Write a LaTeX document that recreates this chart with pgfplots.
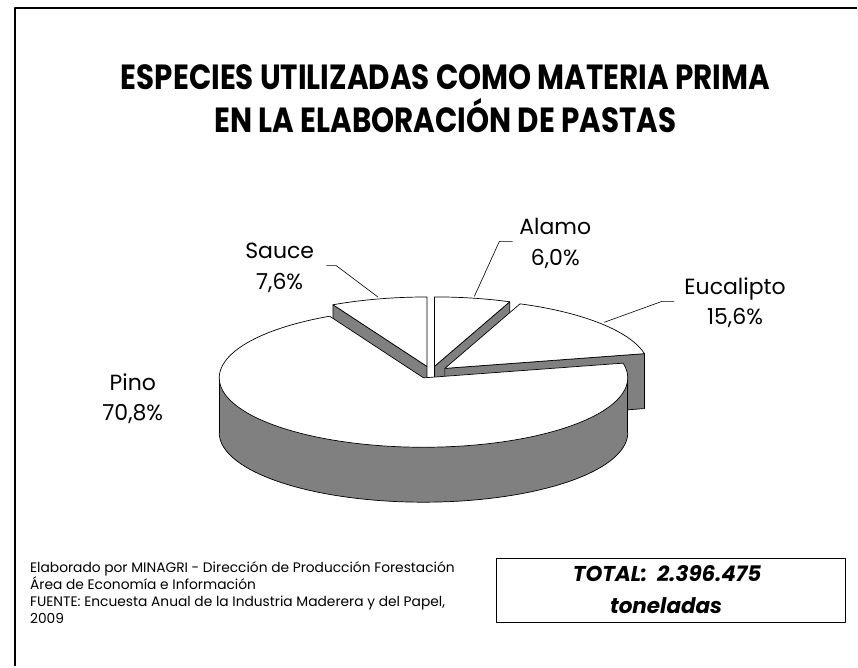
\documentclass[border=0pt]{standalone}
\usepackage{pgfplots}
\pgfplotsset{compat=1.18}
\usepackage{pgfplotstable}
\usepackage{fontspec}
\setmainfont{Poppins}
\newfontfamily\titlefont{Poppins}[FakeStretch=0.84]
\definecolor{sidegray}{RGB}{128,128,128}

\pgfplotstableread{
name value
Alamo 6.0
Eucalipto 15.6
Pino 70.8
Sauce 7.6
}\pietable
\pgfplotstablegetelem{0}{value}\of\pietable \let\vA\pgfplotsretval
\pgfplotstablegetelem{1}{value}\of\pietable \let\vE\pgfplotsretval
\pgfplotstablegetelem{2}{value}\of\pietable \let\vP\pgfplotsretval
\pgfplotstablegetelem{3}{value}\of\pietable \let\vS\pgfplotsretval

% geometry (pixel units, y downwards)
\def\Ox{431.7}\def\Oy{372.8}\def\ra{204.5}\def\rb{69.5}\def\dep{55}\def\ex{0.088}

\pgfmathsetmacro\aAlo{90-3.6*\vA}
\pgfmathsetmacro\aElo{\aAlo-3.6*\vE}
\pgfmathsetmacro\aPlo{\aElo-3.6*\vP}
\pgfmathsetmacro\aShi{\aPlo+360}

\pgfmathsetmacro\AAx{\Ox+\ex*\ra*cos((\aAlo+90)/2)}
\pgfmathsetmacro\AAy{\Oy-\ex*\rb*sin((\aAlo+90)/2)}
\pgfmathsetmacro\EEx{\Ox+\ex*\ra*cos((\aElo+\aAlo)/2)}
\pgfmathsetmacro\EEy{\Oy-\ex*\rb*sin((\aElo+\aAlo)/2)}
\pgfmathsetmacro\PPx{\Ox+\ex*\ra*cos((\aPlo+\aElo)/2)}
\pgfmathsetmacro\PPy{\Oy-\ex*\rb*sin((\aPlo+\aElo)/2)}
\pgfmathsetmacro\SSx{\Ox+\ex*\ra*cos((\aShi+90)/2)}
\pgfmathsetmacro\SSy{\Oy-\ex*\rb*sin((\aShi+90)/2)}

\pgfmathsetmacro\AQx{\AAx+\ra*cos(\aAlo)}
\pgfmathsetmacro\AQy{\AAy-\rb*sin(\aAlo)}
\pgfmathsetmacro\AQyd{\AQy+\dep}
\pgfmathsetmacro\AAyd{\AAy+\dep}
\pgfmathsetmacro\EQx{\EEx+\ra*cos(\aElo)}
\pgfmathsetmacro\EQy{\EEy-\rb*sin(\aElo)}
\pgfmathsetmacro\EQyd{\EQy+\dep}
\pgfmathsetmacro\EEyd{\EEy+\dep}
\pgfmathsetmacro\SQx{\SSx+\ra*cos(\aShi)}
\pgfmathsetmacro\SQy{\SSy-\rb*sin(\aShi)}
\pgfmathsetmacro\SQyd{\SQy+\dep}
\pgfmathsetmacro\SSyd{\SSy+\dep}
\pgfmathsetmacro\PL{\PPx-\ra}
\pgfmathsetmacro\PR{\PPx+\ra}
\pgfmathsetmacro\PPyd{\PPy+\dep}

\begin{document}
\begin{tikzpicture}
\begin{axis}[
  width=858pt, height=667pt, scale only axis,
  xmin=0, xmax=858, ymin=0, ymax=667, y dir=reverse,
  hide axis, clip=false,
  every axis plot/.append style={line width=0.7pt, line join=round},
]
\path (rel axis cs:0,0) rectangle (rel axis cs:1,1);
% frame
\addplot[black, line width=2.2pt] coordinates {(15,667) (15,8.3) (858,8.3)};

% Sauce
\addplot[fill=sidegray, draw=black] coordinates {(\SSx,\SSy) (\SQx,\SQy) (\SQx,\SQyd) (\SSx,\SSyd)} -- cycle;
\addplot[fill=white, draw=black, domain=90:\aShi, samples=40, variable=\t]
  ({\SSx+\ra*cos(\t)}, {\SSy-\rb*sin(\t)}) -- (axis cs:\SSx,\SSy) -- cycle;
% Alamo
\addplot[fill=sidegray, draw=black] coordinates {(\AAx,\AAy) (\AQx,\AQy) (\AQx,\AQyd) (\AAx,\AAyd)} -- cycle;
\addplot[fill=white, draw=black, domain=\aAlo:90, samples=40, variable=\t]
  ({\AAx+\ra*cos(\t)}, {\AAy-\rb*sin(\t)}) -- (axis cs:\AAx,\AAy) -- cycle;
% Eucalipto
\addplot[fill=sidegray, draw=black] coordinates {(\EEx,\EEy) (\EQx,\EQy) (\EQx,\EQyd) (\EEx,\EEyd)} -- cycle;
\addplot[fill=white, draw=black, domain=\aElo:\aAlo, samples=60, variable=\t]
  ({\EEx+\ra*cos(\t)}, {\EEy-\rb*sin(\t)}) -- (axis cs:\EEx,\EEy) -- cycle;
% Pino side
\addplot[fill=sidegray, draw=none] coordinates {(\PL,\PPy) (\PR,\PPy) (\PR,\PPyd) (\PL,\PPyd)} -- cycle;
\addplot[fill=sidegray, draw=none, domain=180:360, samples=120, variable=\t]
  ({\PPx+\ra*cos(\t)}, {\PPyd-\rb*sin(\t)}) -- cycle;
\addplot[draw=black, domain=180:360, samples=120, variable=\t]
  ({\PPx+\ra*cos(\t)}, {\PPyd-\rb*sin(\t)});
\addplot[black] coordinates {(\PL,\PPy) (\PL,\PPyd)};
\addplot[black] coordinates {(\PR,\PPy) (\PR,\PPyd)};
% Pino top
\addplot[fill=white, draw=black, domain=\aPlo:\aElo, samples=200, variable=\t]
  ({\PPx+\ra*cos(\t)}, {\PPy-\rb*sin(\t)}) -- (axis cs:\PPx,\PPy) -- cycle;

% leader lines
\addplot[black, line width=0.6pt] coordinates {(475,296.7) (500,241.7) (513.3,241.7)};
\addplot[black, line width=0.6pt] coordinates {(378.3,297.3) (336.7,266) (326.7,266)};
\addplot[black, line width=0.6pt] coordinates {(605,322.7) (663,301.7) (675,301.7)};

% data labels
\node[align=center, font=\fontsize{22}{31}\selectfont] at (axis cs:556,244) {Alamo\\6,0\%};
\node[align=center, font=\fontsize{22}{31}\selectfont] at (axis cs:280,268) {Sauce\\7,6\%};
\node[align=center, font=\fontsize{22}{30}\selectfont] at (axis cs:736,303) {Eucalipto\\15,6\%};
\node[align=center, font=\fontsize{22}{30}\selectfont] at (axis cs:133,399) {Pino\\70,8\%};

% title
\node[align=center, font=\titlefont\bfseries\fontsize{35}{43}\selectfont] at (axis cs:446,99)
  {ESPECIES UTILIZADAS COMO MATERIA PRIMA\\EN LA ELABORACIÓN DE PASTAS};

% footnote
\node[anchor=base west, font=\fontsize{13.8}{17}\selectfont, inner sep=0pt] at (axis cs:30,573) {Elaborado por MINAGRI - Dirección de Producción Forestación};
\node[anchor=base west, font=\fontsize{13.8}{17}\selectfont, inner sep=0pt] at (axis cs:30,590) {Área de Economía e Información};
\node[anchor=base west, font=\fontsize{13.8}{17}\selectfont, inner sep=0pt] at (axis cs:30,607.5) {FUENTE: Encuesta Anual de la Industria Maderera y del Papel,};
\node[anchor=base west, font=\fontsize{13.8}{17}\selectfont, inner sep=0pt] at (axis cs:30,624.5) {2009};

% total box
\addplot[black, line width=0.8pt] coordinates {(497.3,559.3) (846,559.3) (846,622.7) (497.3,622.7)} -- cycle;
\node[font=\bfseries\itshape\fontsize{21.5}{28}\selectfont] at (axis cs:668,574) {TOTAL:\ \ 2.396.475};
\node[font=\bfseries\itshape\fontsize{21.5}{28}\selectfont] at (axis cs:667,606) {toneladas};
\end{axis}
\end{tikzpicture}
\end{document}
